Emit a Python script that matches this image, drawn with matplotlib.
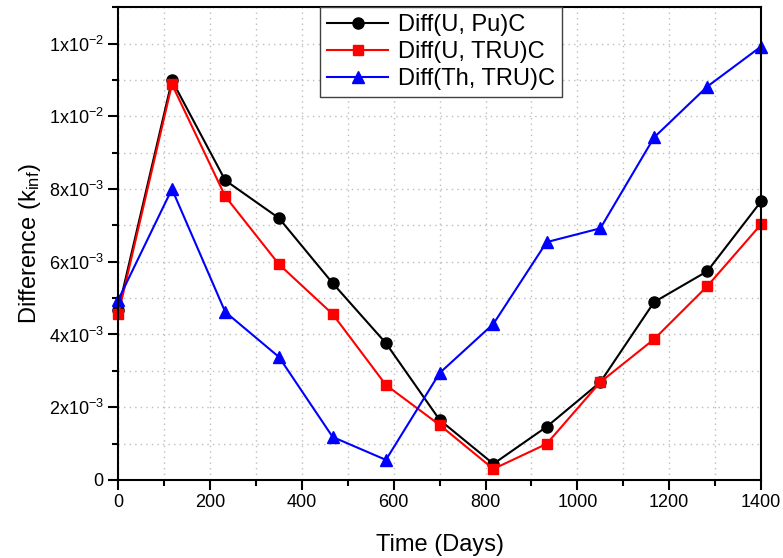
import matplotlib
matplotlib.use("Agg")
import matplotlib.pyplot as plt
from matplotlib.ticker import MultipleLocator, FixedLocator, FixedFormatter

plt.rcParams['font.family'] = ['Liberation Sans', 'DejaVu Sans']
plt.rcParams['mathtext.default'] = 'regular'

## data
days = [0, 117, 233, 350, 467, 583, 700, 817, 933, 1050, 1167, 1283, 1400]
diff_u_pu = [4.67e-3, 10.99e-3, 8.24e-3, 7.20e-3, 5.41e-3, 3.76e-3, 1.65e-3,
             0.44e-3, 1.46e-3, 2.69e-3, 4.89e-3, 5.74e-3, 7.66e-3]
diff_u_tru = [4.55e-3, 10.88e-3, 7.80e-3, 5.93e-3, 4.56e-3, 2.61e-3, 1.51e-3,
              0.30e-3, 0.99e-3, 2.69e-3, 3.87e-3, 5.33e-3, 7.03e-3]
diff_th_tru = [4.95e-3, 8.00e-3, 4.62e-3, 3.38e-3, 1.18e-3, 0.55e-3, 2.94e-3,
               4.29e-3, 6.54e-3, 6.92e-3, 9.42e-3, 10.82e-3, 11.92e-3]

ytick_vals = [0, 2e-3, 4e-3, 6e-3, 8e-3, 10e-3, 12e-3]
ytick_labels = ["0", "2x10$^{-3}$", "4x10$^{-3}$", "6x10$^{-3}$",
                "8x10$^{-3}$", "1x10$^{-2}$", "1x10$^{-2}$"]

fig, ax = plt.subplots(figsize=(7.83, 5.58), dpi=100)
fig.subplots_adjust(left=0.151, right=0.972, top=0.987, bottom=0.14)

ax.plot(days, diff_u_pu, color='black', marker='o', markersize=8, lw=1.5, label='Diff(U, Pu)C', clip_on=False)
ax.plot(days, diff_u_tru, color='red', marker='s', markersize=7, lw=1.5, label='Diff(U, TRU)C', clip_on=False)
ax.plot(days, diff_th_tru, color='blue', marker='^', markersize=9, lw=1.5, label='Diff(Th, TRU)C', clip_on=False)

ax.set_xlim(0, 1400)
ax.set_ylim(0, 0.013)
ax.xaxis.set_major_locator(MultipleLocator(200))
ax.xaxis.set_minor_locator(MultipleLocator(100))
ax.yaxis.set_major_locator(FixedLocator(ytick_vals))
ax.yaxis.set_major_formatter(FixedFormatter(ytick_labels))
ax.yaxis.set_minor_locator(MultipleLocator(1e-3))

ax.grid(True, which='both', color='#bdbdbd', linestyle=(0, (1, 3)), linewidth=1)
ax.set_axisbelow(True)
ax.tick_params(which='both', direction='out', top=False, right=False, width=1.5)
ax.tick_params(which='major', length=7, labelsize=13)
ax.tick_params(which='minor', length=4)
for s in ax.spines.values():
    s.set_linewidth(1.5)

ax.set_xlabel("Time (Days)", fontsize=17, labelpad=16)
ax.set_ylabel("Difference (k$_{inf}$)", fontsize=17, labelpad=4)

leg = ax.legend(loc='upper center', bbox_to_anchor=(0.502, 1.0), fontsize=17, fancybox=False,
                framealpha=1, edgecolor='#404040', borderpad=0.3, handlelength=2.6,
                labelspacing=0.2, handletextpad=0.4, borderaxespad=0)
leg.get_frame().set_linewidth(1)

fig.savefig("out.png", dpi=100)
